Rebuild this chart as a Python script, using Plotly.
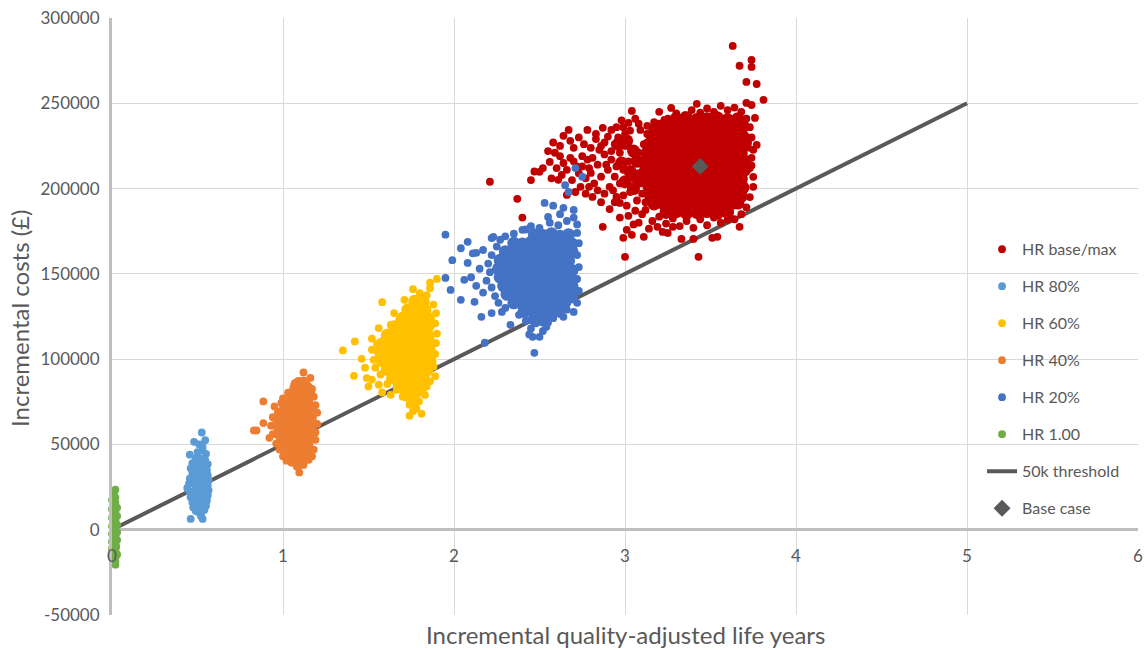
import plotly.graph_objects as go

# ---------------- data ----------------
qaly_ticks = [0, 1, 2, 3, 4, 5, 6]
qaly_labels = ["0", "1", "2", "3", "4", "5", "6"]
cost_ticks = [-50000, 0, 50000, 100000, 150000, 200000, 250000, 300000]
cost_labels = ["-50000", "0", "50000", "100000", "150000", "200000", "250000", "300000"]

threshold_qaly = [0, 5]
threshold_cost = [0, 250000]
base_case_qaly = [3.44]
base_case_cost = [213000]

# HR base/max (red)
hr_base_pts = [
    (3.63, 283600), (3.67, 272000), (3.74, 275400), (3.74, 271300), (3.71, 262500), (3.77, 261300),
    (3.81, 252000), (3.74, 249000), (3.71, 250200),
    (2.37, 194000), (2.40, 183000), (2.21, 204000), (2.50, 209800), (2.56, 215600), (2.59, 221000),
    (2.64, 230900), (2.67, 234400), (2.78, 234400), (2.70, 223900), (2.80, 223900), (2.61, 205100),
    (2.74, 201000), (2.81, 195100), (2.87, 177600), (3.00, 160000), (2.99, 171100), (3.04, 172900),
    (3.11, 171700), (3.22, 174600), (3.33, 170500), (3.43, 160000), (3.40, 170500), (3.51, 171100),
    (3.54, 171700), (3.60, 181700), (3.67, 177600), (3.75, 206900), (3.75, 222700), (3.72, 226800),
    (3.04, 245500), (3.02, 238500), (2.87, 235600), (2.92, 234400), (2.85, 222700), (2.72, 212800),
    (2.80, 209200), (2.66, 196300), (2.91, 201000), (2.95, 195100), (2.97, 191600), (3.01, 175800),
    (3.12, 187500), (3.19, 177600), (3.25, 174000), (3.28, 177600),
    (3.20, 238000), (3.25, 241000), (3.30, 244000), (3.35, 243000), (3.39, 246000), (3.44, 244500),
    (3.48, 247000), (3.52, 245000), (3.56, 248500), (3.60, 246000), (3.64, 247500), (3.68, 245000),
    (3.71, 241000), (3.23, 240300), (3.27, 247300), (3.20, 245000), (3.42, 249700),
    (3.73, 236000), (3.74, 230000), (3.72, 224000), (3.74, 218000), (3.73, 212000), (3.75, 201000),
    (3.73, 195000), (3.71, 189000), (3.74, 213500), (3.77, 225600), (3.76, 241400),
    (3.68, 185000), (3.64, 182000), (3.60, 185500), (3.56, 180000), (3.52, 183000), (3.48, 178500),
    (3.44, 182000), (3.40, 177000), (3.36, 181000), (3.32, 178000), (3.28, 182500), (3.24, 179500),
    (3.20, 183500), (3.16, 181000),
    (3.12, 192000), (3.10, 197000), (3.09, 203000), (3.08, 209000), (3.09, 215000), (3.08, 221000),
    (3.11, 226000), (3.13, 232000), (3.16, 235000), (3.09, 234400), (3.13, 236800),
    (2.68, 228000), (2.73, 230000), (2.76, 226000), (2.83, 229000), (2.88, 227000), (2.90, 230500),
    (2.95, 236000), (2.98, 240000), (3.06, 241000), (3.00, 232000), (2.94, 226000), (2.97, 221000),
    (2.92, 217000), (2.88, 220000), (2.84, 214000), (2.78, 217000), (2.75, 219000), (2.70, 216000),
    (2.66, 211000), (2.63, 208000), (2.69, 205000), (2.77, 206000), (2.82, 203000), (2.86, 207000),
    (2.90, 211000), (2.94, 207000), (2.99, 211000), (3.02, 216000), (3.06, 221000), (3.05, 206000),
    (3.03, 198000), (2.99, 196000), (2.93, 199000), (2.88, 197000), (2.84, 199000), (3.07, 193000),
    (3.06, 187000), (3.02, 184000), (2.97, 183000), (3.08, 180000), (3.14, 176500), (2.91, 188000),
    (2.79, 212000), (2.73, 209000), (2.62, 225000), (2.58, 227000), (2.52, 212000), (2.47, 210000),
    (2.45, 205000), (2.55, 222000), (2.68, 218000), (2.64, 215000), (2.71, 198000), (2.77, 197000),
    (2.83, 232000), (2.86, 225000), (2.81, 218000), (2.89, 214000), (2.95, 213000), (2.92, 222000),
    (2.96, 230000), (3.00, 225000), (3.03, 234000), (2.97, 203000), (3.01, 190000), (2.94, 192000),
    (2.86, 192000), (2.79, 201000), (2.75, 213000), (2.62, 219000), (2.60, 212000), (2.57, 206000),
    (3.10, 185000), (3.05, 179000), (3.17, 239000), (3.08, 238000), (2.99, 236000),
]
hr_base_core = [
    (3.30, 241000), (3.36, 241500), (3.42, 240500), (3.48, 241000), (3.54, 241500), (3.60, 240500), (3.66, 241000),
    (3.20, 236000), (3.25, 236500), (3.30, 235500), (3.35, 236000), (3.40, 236500), (3.45, 235500), (3.50, 236000),
    (3.55, 236500), (3.60, 235500), (3.65, 236000), (3.69, 236500),
    (3.16, 231000), (3.21, 231500), (3.26, 230500), (3.31, 231000), (3.36, 231500), (3.41, 230500), (3.46, 231000),
    (3.51, 231500), (3.56, 230500), (3.61, 231000), (3.66, 231500), (3.69, 230500),
    (3.14, 226000), (3.19, 226500), (3.24, 225500), (3.29, 226000), (3.34, 226500), (3.39, 225500), (3.44, 226000),
    (3.49, 226500), (3.54, 225500), (3.59, 226000), (3.64, 226500), (3.69, 225500),
    (3.13, 221000), (3.18, 221500), (3.23, 220500), (3.28, 221000), (3.33, 221500), (3.38, 220500), (3.43, 221000),
    (3.48, 221500), (3.53, 220500), (3.58, 221000), (3.63, 221500), (3.68, 220500),
    (3.12, 216000), (3.17, 216500), (3.22, 215500), (3.27, 216000), (3.32, 216500), (3.37, 215500), (3.42, 216000),
    (3.47, 216500), (3.52, 215500), (3.57, 216000), (3.62, 216500), (3.67, 215500), (3.70, 216000),
    (3.12, 211000), (3.17, 211500), (3.22, 210500), (3.27, 211000), (3.32, 211500), (3.37, 210500), (3.42, 211000),
    (3.47, 211500), (3.52, 210500), (3.57, 211000), (3.62, 211500), (3.67, 210500), (3.70, 211000),
    (3.13, 206000), (3.18, 206500), (3.23, 205500), (3.28, 206000), (3.33, 206500), (3.38, 205500), (3.43, 206000),
    (3.48, 206500), (3.53, 205500), (3.58, 206000), (3.63, 206500), (3.68, 205500),
    (3.14, 201000), (3.19, 201500), (3.24, 200500), (3.29, 201000), (3.34, 201500), (3.39, 200500), (3.44, 201000),
    (3.49, 201500), (3.54, 200500), (3.59, 201000), (3.64, 201500), (3.69, 200500),
    (3.15, 196000), (3.20, 196500), (3.25, 195500), (3.30, 196000), (3.35, 196500), (3.40, 195500), (3.45, 196000),
    (3.50, 196500), (3.55, 195500), (3.60, 196000), (3.65, 196500), (3.68, 195500),
    (3.17, 191000), (3.22, 191500), (3.27, 190500), (3.32, 191000), (3.37, 191500), (3.42, 190500), (3.47, 191000),
    (3.52, 191500), (3.57, 190500), (3.62, 191000), (3.66, 191500),
    (3.24, 186000), (3.30, 186500), (3.36, 185500), (3.42, 186000), (3.48, 186500), (3.54, 185500), (3.60, 186000),
    (2.96, 226000), (3.01, 228000), (3.05, 222000), (2.98, 215000), (3.03, 210000), (3.07, 216000),
    (3.00, 204000), (3.05, 200000), (3.08, 206000),
]

# HR 80% (light blue)
hr80_pts = [
    (0.525, 57000), (0.48, 51500), (0.545, 52500), (0.51, 50000), (0.53, 48500), (0.455, 44000),
    (0.53, 46500), (0.50, 45500), (0.55, 44500), (0.49, 42000), (0.545, 41000), (0.47, 39000),
    (0.56, 38500), (0.46, 36000), (0.555, 35000), (0.47, 33000), (0.56, 32000), (0.455, 30000),
    (0.565, 29000), (0.45, 27000), (0.56, 26000), (0.44, 24500), (0.565, 23000), (0.455, 22000),
    (0.56, 20000), (0.46, 19000), (0.555, 17000), (0.47, 16000), (0.55, 14000), (0.475, 13000),
    (0.54, 11500), (0.49, 11000), (0.50, 10500), (0.52, 9500), (0.46, 6300), (0.53, 6300),
    (0.52, 8000), (0.48, 27000), (0.545, 27500), (0.47, 22500), (0.54, 21000),
]
hr80_core = [
    (0.50, 15000), (0.53, 18000), (0.49, 21500), (0.52, 24500), (0.50, 28000), (0.53, 31000),
    (0.49, 34000), (0.52, 37000), (0.51, 40500),
]

# HR 60% (yellow)
hr60_pts = [
    (1.90, 147000), (1.86, 141600), (1.80, 138700), (1.82, 134800), (1.71, 134800), (1.73, 128900),
    (1.58, 133400), (1.68, 123000), (1.63, 120100), (1.56, 118200), (1.52, 105500), (1.53, 99600),
    (1.35, 105100), (1.42, 110400), (1.46, 100200), (1.415, 90200), (1.49, 88900), (1.50, 84000),
    (1.56, 85000), (1.63, 79100), (1.74, 66800), (1.81, 68000), (1.795, 75200), (1.74, 73300),
    (1.665, 82000), (1.895, 127000), (1.895, 109400), (1.88, 95700), (1.84, 84000),
    (1.76, 141000), (1.84, 137500), (1.88, 132000), (1.89, 121000), (1.90, 115000), (1.89, 103000),
    (1.89, 90000), (1.86, 87000), (1.83, 79000), (1.78, 76000), (1.70, 78000), (1.61, 85500),
    (1.57, 91000), (1.54, 95000), (1.52, 112000), (1.55, 109000), (1.60, 115000), (1.65, 127000),
    (1.78, 71000), (1.76, 69500), (1.48, 95000), (1.52, 88000), (1.58, 80500), (1.86, 144800),
]
hr60_core = [
    (1.77, 134000), (1.82, 133500),
    (1.73, 129000), (1.78, 129500), (1.83, 128500),
    (1.70, 124000), (1.75, 124500), (1.80, 123500), (1.85, 124000),
    (1.65, 119000), (1.70, 119500), (1.75, 118500), (1.80, 119000), (1.85, 119500),
    (1.61, 114000), (1.66, 114500), (1.71, 113500), (1.76, 114000), (1.81, 114500), (1.85, 113500),
    (1.58, 109000), (1.63, 109500), (1.68, 108500), (1.73, 109000), (1.78, 109500), (1.83, 108500), (1.86, 109000),
    (1.57, 104000), (1.62, 104500), (1.67, 103500), (1.72, 104000), (1.77, 104500), (1.82, 103500), (1.86, 104000),
    (1.58, 99000), (1.63, 99500), (1.68, 98500), (1.73, 99000), (1.78, 99500), (1.83, 98500), (1.86, 99000),
    (1.61, 94000), (1.66, 94500), (1.71, 93500), (1.76, 94000), (1.81, 94500), (1.84, 93500),
    (1.64, 89000), (1.69, 89500), (1.74, 88500), (1.79, 89000), (1.82, 89500),
    (1.68, 84000), (1.73, 84500), (1.78, 83500), (1.81, 84000),
    (1.72, 79000), (1.77, 79500),
    (1.76, 75000),
]

# HR 40% (orange)
hr40_pts = [
    (0.885, 75200), (0.83, 58200), (0.845, 58200), (0.885, 62500),
    (1.12, 92200), (1.16, 89000), (1.09, 87300), (1.13, 86000), (1.06, 83000), (1.15, 84000),
    (1.03, 80300), (1.00, 77000), (0.99, 74400), (0.95, 72300), (0.97, 69000), (0.94, 66000),
    (0.93, 61000), (0.92, 53900), (0.94, 56000), (0.96, 50500), (0.98, 47000), (1.00, 43000),
    (1.02, 40500), (1.05, 39300), (1.08, 37000), (1.095, 33600), (1.12, 38000), (1.15, 41000),
    (1.17, 43000), (1.18, 47000), (1.19, 52700), (1.19, 57000), (1.20, 62000), (1.20, 68600),
    (1.19, 73000), (1.18, 78000), (1.17, 82500), (0.96, 63000), (1.01, 46000), (1.10, 38000),
]
hr40_core = [
    (1.08, 85000), (1.12, 86000),
    (1.07, 80000), (1.12, 80500), (1.15, 79500),
    (1.04, 75000), (1.09, 75500), (1.14, 74500),
    (1.01, 70000), (1.06, 70500), (1.11, 69500), (1.15, 70000),
    (0.99, 65000), (1.04, 65500), (1.09, 64500), (1.14, 65000), (1.16, 65500),
    (0.98, 60000), (1.03, 60500), (1.08, 59500), (1.13, 60000), (1.16, 60500),
    (0.99, 55000), (1.04, 55500), (1.09, 54500), (1.14, 55000), (1.16, 54500),
    (1.01, 50000), (1.06, 50500), (1.11, 49500), (1.14, 50000),
    (1.04, 45000), (1.09, 45500), (1.13, 44500),
    (1.07, 41000), (1.11, 40500),
]

# HR 20% (blue)
hr20_pts = [
    (1.95, 173000), (2.18, 109600), (2.47, 103700), (1.99, 158000), (2.04, 165000), (2.08, 168800),
    (1.95, 147600), (1.98, 140600), (2.04, 134800), (2.10, 148000), (2.12, 133600), (2.16, 124800),
    (2.22, 127000), (2.28, 127700), (2.53, 191600), (2.58, 190000), (2.65, 202000), (2.67, 198000),
    (2.71, 212000), (2.75, 207000), (2.70, 187500), (2.64, 188700), (2.55, 183400), (2.40, 175800),
    (2.23, 171700), (2.17, 164000), (2.13, 162300), (2.08, 156400), (2.06, 146500), (2.70, 127700),
    (2.64, 124800), (2.46, 113100), (2.50, 113100), (2.33, 120100), (2.11, 162000), (2.22, 171000),
    (2.45, 178000), (2.50, 177000), (2.56, 180000), (2.61, 178500), (2.66, 181000), (2.70, 183000),
    (2.72, 179000), (2.42, 176000), (2.35, 173500), (2.30, 172000), (2.27, 170000), (2.62, 185000),
    (2.25, 166000), (2.22, 161000), (2.20, 156000), (2.21, 151000), (2.19, 146000), (2.22, 142000),
    (2.24, 137000), (2.26, 133000), (2.30, 130000), (2.15, 153000), (2.13, 143000), (2.17, 139000),
    (2.38, 126000), (2.42, 122500), (2.45, 118000), (2.48, 121000), (2.52, 116500), (2.55, 121500),
    (2.58, 124000), (2.62, 126500), (2.66, 129000), (2.44, 114500), (2.54, 119000),
    (2.72, 133000), (2.73, 140000), (2.72, 147000), (2.73, 154000), (2.72, 161000), (2.73, 168000),
    (2.72, 174000), (2.70, 135000),
]
hr20_core = [
    (2.47, 173000), (2.52, 172500), (2.57, 173500), (2.62, 172000), (2.67, 173000),
    (2.35, 168000), (2.40, 167500), (2.45, 168500), (2.50, 168000), (2.55, 167000), (2.60, 168000),
    (2.65, 168500), (2.69, 167500),
    (2.30, 163000), (2.35, 162500), (2.40, 163500), (2.45, 163000), (2.50, 162000), (2.55, 163000),
    (2.60, 163500), (2.65, 162500), (2.69, 163000),
    (2.27, 158000), (2.32, 158500), (2.37, 157500), (2.42, 158000), (2.47, 158500), (2.52, 157500),
    (2.57, 158000), (2.62, 158500), (2.67, 157500),
    (2.26, 153000), (2.31, 152500), (2.36, 153500), (2.41, 153000), (2.46, 152000), (2.51, 153000),
    (2.56, 153500), (2.61, 152500), (2.66, 153000), (2.69, 152000),
    (2.27, 148000), (2.32, 148500), (2.37, 147500), (2.42, 148000), (2.47, 148500), (2.52, 147500),
    (2.57, 148000), (2.62, 148500), (2.67, 147500),
    (2.29, 143000), (2.34, 142500), (2.39, 143500), (2.44, 143000), (2.49, 142000), (2.54, 143000),
    (2.59, 143500), (2.64, 142500), (2.69, 143000),
    (2.31, 138000), (2.36, 138500), (2.41, 137500), (2.46, 138000), (2.51, 138500), (2.56, 137500),
    (2.61, 138000), (2.66, 138500), (2.69, 137500),
    (2.35, 133000), (2.40, 132500), (2.45, 133500), (2.50, 133000), (2.55, 132000), (2.60, 133000),
    (2.65, 133500),
    (2.41, 128000), (2.46, 128500), (2.51, 127500), (2.56, 128000), (2.61, 128500),
    (2.47, 123500), (2.52, 123000),
]

# HR 1.00 (green)
hr100_pts = [
    (0.02, 23500), (0.01, 21000), (0.02, 19000), (0.00, 17500), (0.02, 16000), (0.01, 14500),
    (0.03, 13000), (0.00, 12000), (0.02, 10500), (0.01, 9000), (0.03, 8000), (0.00, 7000),
    (0.02, 5500), (0.01, 4500), (0.03, 3000), (0.00, 2000), (0.02, 1000), (0.01, -500),
    (0.03, -1500), (0.00, -2500), (0.02, -3500), (0.01, -5000), (0.03, -6000), (0.00, -7000),
    (0.02, -8500), (0.01, -9500), (0.00, -11000), (0.02, -12000), (0.01, -13500), (0.03, -14500),
    (0.00, -15500), (0.02, -16500), (0.01, -17500), (0.02, -18500), (0.01, -19500), (0.02, -20500),
    (0.015, 6000), (0.015, -4000), (0.015, 11000), (0.005, 15500), (0.025, -10000),
]

series = [
    ("HR base/max", hr_base_pts, hr_base_core, "#C00000"),
    ("HR 80%", hr80_pts, hr80_core, "#5B9BD5"),
    ("HR 60%", hr60_pts, hr60_core, "#FFC000"),
    ("HR 40%", hr40_pts, hr40_core, "#ED7D31"),
    ("HR 20%", hr20_pts, hr20_core, "#4472C4"),
    ("HR 1.00", hr100_pts, [], "#70AD47"),
]

# ---------------- figure ----------------
fig = go.Figure()

fig.add_trace(go.Scatter(
    x=threshold_qaly, y=threshold_cost, mode="lines", name="50k threshold",
    line=dict(color="#595959", width=4), legendgroup="thr", legendrank=7,
))

for rank, (name, pts, core, color) in enumerate(series, start=1):
    if core:
        fig.add_trace(go.Scatter(
            x=[p[0] for p in core], y=[p[1] for p in core], mode="markers",
            marker=dict(color=color, size=13, line=dict(width=0)),
            legendgroup=name, showlegend=False, hoverinfo="skip",
        ))
    fig.add_trace(go.Scatter(
        x=[p[0] for p in pts], y=[p[1] for p in pts], mode="markers", name=name,
        marker=dict(color=color, size=7.8, line=dict(width=0)),
        legendgroup=name, legendrank=rank, cliponaxis=False,
    ))

fig.add_trace(go.Scatter(
    x=base_case_qaly, y=base_case_cost, mode="markers", name="Base case",
    marker=dict(color="#595959", symbol="diamond", size=13, line=dict(width=0)),
    legendgroup="base", legendrank=8,
))

ymin, ymax = -50000, 300000
fig.update_layout(
    width=1145, height=650,
    margin=dict(l=112, r=7, t=18, b=35, autoexpand=False),
    plot_bgcolor="white", paper_bgcolor="white",
    font=dict(family="Lato, 'Open Sans', sans-serif", color="#595959"),
    showlegend=True,
    legend=dict(
        x=0.848, y=0.641, xanchor="left", yanchor="top",
        font=dict(size=16, color="#595959"),
        bgcolor="rgba(0,0,0,0)", tracegroupgap=13.2, traceorder="grouped",
    ),
    xaxis=dict(
        range=[0, 6], tickvals=qaly_ticks, ticktext=qaly_labels,
        showgrid=True, gridcolor="#D9D9D9", gridwidth=1,
        zeroline=False, showline=False, ticks="",
        anchor="free", position=(0 - ymin) / (ymax - ymin),
        tickfont=dict(size=17, color="#595959"), ticklabelstandoff=14,
    ),
    yaxis=dict(
        range=[ymin, ymax], tickvals=cost_ticks, ticktext=cost_labels,
        showgrid=True, gridcolor="#D9D9D9", gridwidth=1,
        zeroline=True, zerolinecolor="#BFBFBF", zerolinewidth=3,
        showline=True, linecolor="#BFBFBF", linewidth=3, ticks="",
        tickfont=dict(size=17, color="#595959"), ticklabelstandoff=6,
    ),
    annotations=[
        dict(text="Incremental costs (£)", xref="paper", yref="paper",
             x=-0.0897, y=0.4975, textangle=-90, showarrow=False,
             font=dict(size=24, color="#595959"), xanchor="center", yanchor="middle"),
        dict(text="Incremental quality-adjusted life years", xref="paper", yref="paper",
             x=0.5, y=-0.0335, showarrow=False,
             font=dict(size=24, color="#595959"), xanchor="center", yanchor="middle"),
    ],
)

fig.write_html(
    "out.html",
    config={"displayModeBar": False},
    post_script="document.body.style.margin='0';document.body.style.overflow='hidden';",
)
